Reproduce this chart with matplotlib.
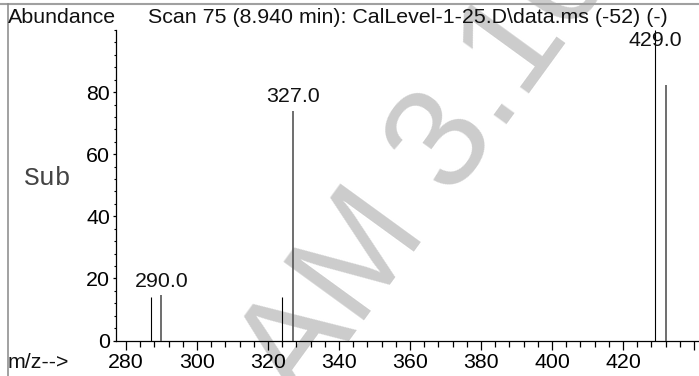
import matplotlib
matplotlib.use("Agg")
import matplotlib.pyplot as plt
from matplotlib.lines import Line2D
from matplotlib.ticker import MultipleLocator

# spectrum peaks (m/z, abundance); two overlaid traces
mz_black = [287.0, 324.0, 429.0]
ab_black = [14.1, 14.1, 100.0]
mz_gray = [290.0, 327.0, 432.0]
ab_gray = [14.6, 73.9, 82.2]

label_mz = [290.0, 327.0, 429.0]
label_ab = [14.6, 73.9, 100.0]

x_ticks = [280, 300, 320, 340, 360, 380, 400, 420, 440]
x_ticklabels = ["280", "300", "320", "340", "360", "380", "400", "420", ""]
y_ticks = [0, 20, 40, 60, 80]

title = "Scan 75 (8.940 min): CalLevel-1-25.D\\data.ms (-52) (-)"

W, H = 699, 376
fig = plt.figure(figsize=(W / 100, H / 100), dpi=100)
sans = "Liberation Sans"
fs = 15.4

# axes placement in pixels
ax_left, ax_right, ax_top, ax_bottom = 116, 699, 30, 340.5
ax = fig.add_axes([ax_left / W, 1 - ax_bottom / H,
                   (ax_right - ax_left) / W, (ax_bottom - ax_top) / H])
ax.set_facecolor("none")

ax.vlines(mz_black, 0, ab_black, color="black", lw=0.8, zorder=3)
ax.vlines(mz_gray, 0, ab_gray, color="#555555", lw=1.2, zorder=3)

for m, a in zip(label_mz, label_ab):
    ax.text(m, min(a + 1.5, 93.6), f"{m:.1f}", ha="center", va="bottom",
            fontsize=fs, family=sans, color="#111111", zorder=4)

ax.set_xlim(277.2, 441.4)
ax.set_ylim(0, 100)
ax.set_xticks(x_ticks)
ax.set_xticklabels(x_ticklabels)
ax.set_yticks(y_ticks)
ax.xaxis.set_minor_locator(MultipleLocator(4))
ax.yaxis.set_minor_locator(MultipleLocator(4))
ax.tick_params(axis="x", which="major", direction="out", length=6.5, width=0.9,
               pad=2.5, labelsize=fs)
ax.tick_params(axis="x", which="minor", direction="out", length=4, width=0.9)
ax.tick_params(axis="y", which="major", direction="out", length=2.2, width=0.9,
               pad=2, labelsize=fs)
ax.tick_params(axis="y", which="minor", direction="out", length=1.2, width=0.8)
for lab in ax.get_xticklabels() + ax.get_yticklabels():
    lab.set_family(sans)
for s in ["top", "right"]:
    ax.spines[s].set_visible(False)
for s in ["left", "bottom"]:
    ax.spines[s].set_linewidth(0.9)
ax.spines["bottom"].set_clip_on(False)

# header texts
fig.text(8 / W, 1 - 23 / H, "Abundance", ha="left", va="baseline",
         fontsize=fs, family=sans, color="#111111")
fig.text(148 / W, 1 - 23 / H, title, ha="left", va="baseline",
         fontsize=fs, family=sans, color="#111111")
fig.text(8 / W, 1 - 363 / H, "m/z-->", ha="left", va="center",
         fontsize=fs, family=sans, color="#111111")
fig.text(48 / W, 1 - 178 / H, "Sub", ha="center", va="center",
         fontsize=19, family="Liberation Mono", color="#444444")

# frame lines of the window
fig.add_artist(Line2D([0, 1], [1 - 4.3 / H, 1 - 4.3 / H], color="#a0a0a0", lw=1.5))
fig.add_artist(Line2D([7.5 / W, 7.5 / W], [0, 1 - 4.3 / H], color="#888888", lw=1.1))

# watermark
fig.text(301 / W, 1 - 407 / H, "AM 3.10", rotation=54, rotation_mode="anchor",
         ha="left", va="baseline", fontsize=104, family=sans,
         color="#cccccc", zorder=-1)

fig.savefig("out.png", dpi=100)
